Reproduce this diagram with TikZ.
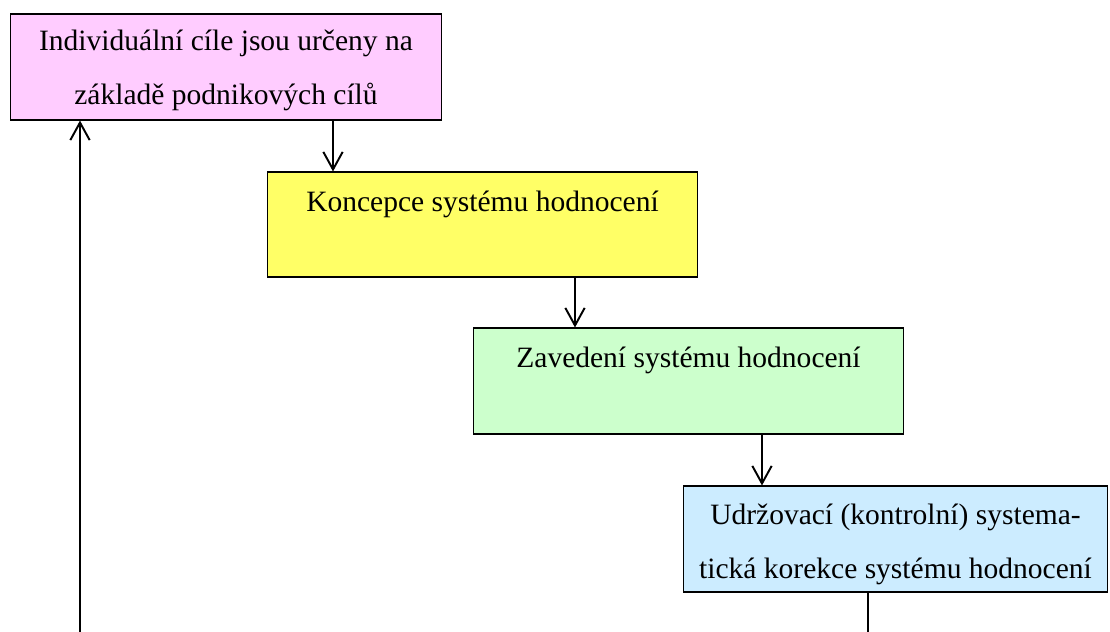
\documentclass[tikz,border=0pt]{standalone}
\usepackage{fontspec}
\setmainfont{Liberation Serif}
\usetikzlibrary{arrows.meta}
\definecolor{pinkbox}{RGB}{255,204,255}
\definecolor{yellowbox}{RGB}{255,255,102}
\definecolor{greenbox}{RGB}{204,255,204}
\definecolor{bluebox}{RGB}{204,236,255}

\begin{document}
\begin{tikzpicture}[x=0.02cm, y=0.02cm]
\tikzstyle{every node}+=[inner sep=0pt, align=center, font=\fontsize{16.8pt}{30.5pt}\selectfont]
\tikzstyle{box}=[draw=black, line width=0.6pt, rectangle, minimum height=2.12cm]
\tikzstyle{topline}=[text height=10pt, text depth=25pt]
\tikzstyle{flow}=[black, line width=1.1pt, -{Straight Barb[length=10pt,width=11pt]}]
\useasboundingbox (0,0) rectangle (1110,-632);
\node [box, fill=pinkbox, minimum width=8.64cm] (cile) at (226,-67) {\rule{0pt}{15.5pt}Individuální cíle jsou určeny na\\základě podnikových cílů};
\node [box, topline, fill=yellowbox, minimum width=8.62cm, minimum height=2.1cm] (koncepce) at (482.5,-224.5) {Koncepce systému hodnocení};
\node [box, topline, fill=greenbox, minimum width=8.62cm] (zavedeni) at (688.5,-381) {Zavedení systému hodnocení};
\node [box, fill=bluebox, minimum width=8.5cm] (korekce) at (895.5,-539) {\rule{0pt}{17.7pt}Udržovací (kontrolní) systema-\\tická korekce systému hodnocení};
\coordinate (x1) at (333,0);
\coordinate (x2) at (575,0);
\coordinate (x3) at (762,0);
\coordinate (zpet) at (80,-632);
\coordinate (dolu) at (868,-632);
\draw [flow] (cile.south -| x1) -- (koncepce.north -| x1);
\draw [flow] (koncepce.south -| x2) -- (zavedeni.north -| x2);
\draw [flow] (zavedeni.south -| x3) -- (korekce.north -| x3);
\draw [black, line width=1.1pt] (korekce.south -| dolu) -- (dolu);
\draw [flow] (zpet) -- (cile.south -| zpet);
\end{tikzpicture}
\end{document}
